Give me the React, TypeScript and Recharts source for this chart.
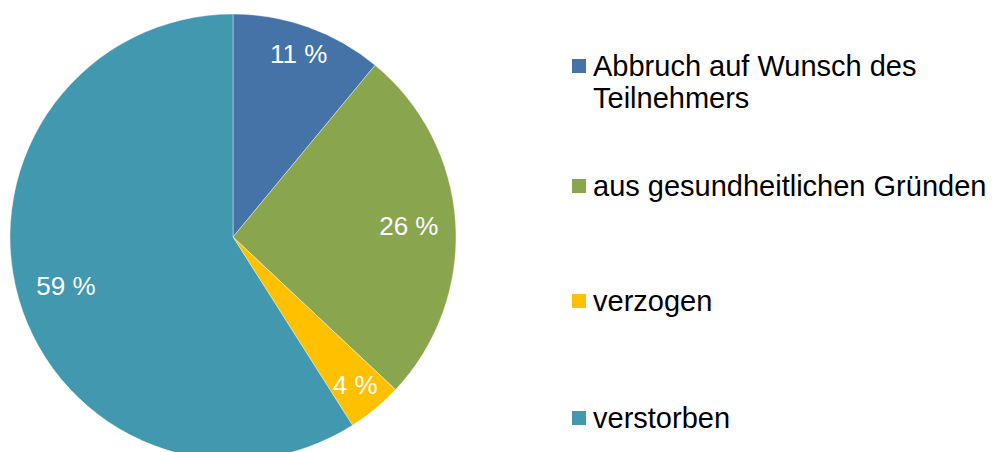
import { Cell, Legend, Pie, PieChart } from "recharts";

const categories = [
  "Abbruch auf Wunsch des Teilnehmers",
  "aus gesundheitlichen Gründen",
  "verzogen",
  "verstorben",
];
const shares = [11, 26, 4, 59];

const COLORS = ["#4572A7", "#89A54E", "#FFC000", "#4198AF"];
const FONT = '"Liberation Sans", Arial, sans-serif';
// label distance from centre, as a fraction of the radius (per slice)
const LABEL_R = [0.87, 0.79, 0.86, 0.78];
// top of each legend row, px
const LEGEND_TOP = [50, 170, 285, 402];

const data = categories.map((name, i) => ({ name, value: shares[i] }));

const RAD = Math.PI / 180;

function renderLabel(props: any) {
  const { cx, cy, midAngle, outerRadius, index, value } = props;
  const r = outerRadius * LABEL_R[index];
  const x = cx + r * Math.cos(-midAngle * RAD);
  const y = cy + r * Math.sin(-midAngle * RAD);
  return (
    <text
      x={x}
      y={y}
      fill="#ffffff"
      textAnchor="middle"
      dominantBaseline="central"
      fontSize={26}
      fontFamily={FONT}
    >
      {`${value} %`}
    </text>
  );
}

function renderLegend() {
  return (
    <div style={{ position: "relative", width: 421, height: 452 }}>
      {data.map((d, i) => (
        <div
          key={d.name}
          style={{
            position: "absolute",
            left: 0,
            top: LEGEND_TOP[i],
            display: "flex",
            alignItems: "flex-start",
            fontFamily: FONT,
            fontSize: 29,
            lineHeight: "32px",
            color: "#000",
            width: 421,
          }}
        >
          <span
            style={{
              display: "inline-block",
              width: 14,
              height: 14,
              marginTop: 9,
              marginRight: 7,
              background: COLORS[i],
              flex: "none",
            }}
          />
          <span style={{ width: 400, whiteSpace: "normal" }}>{d.name}</span>
        </div>
      ))}
    </div>
  );
}

export default function App() {
  return (
    <div style={{ position: "absolute", left: 0, top: 0, width: 993, height: 452, background: "#fff" }}>
      <PieChart width={993} height={452} margin={{ top: 0, right: 0, bottom: 0, left: 0 }}>
        <Pie
          data={data}
          dataKey="value"
          nameKey="name"
          cx={233}
          cy={237}
          outerRadius={223}
          startAngle={90}
          endAngle={-270}
          stroke="#ffffff"
          strokeWidth={0.4}
          label={renderLabel}
          labelLine={false}
          isAnimationActive={false}
        >
          {data.map((d, i) => (
            <Cell key={d.name} fill={COLORS[i]} />
          ))}
        </Pie>
        <Legend
          layout="vertical"
          verticalAlign="top"
          align="right"
          content={renderLegend}
          wrapperStyle={{ position: "absolute", left: 572, top: 0, width: 421, height: 452 }}
        />
      </PieChart>
    </div>
  );
}
